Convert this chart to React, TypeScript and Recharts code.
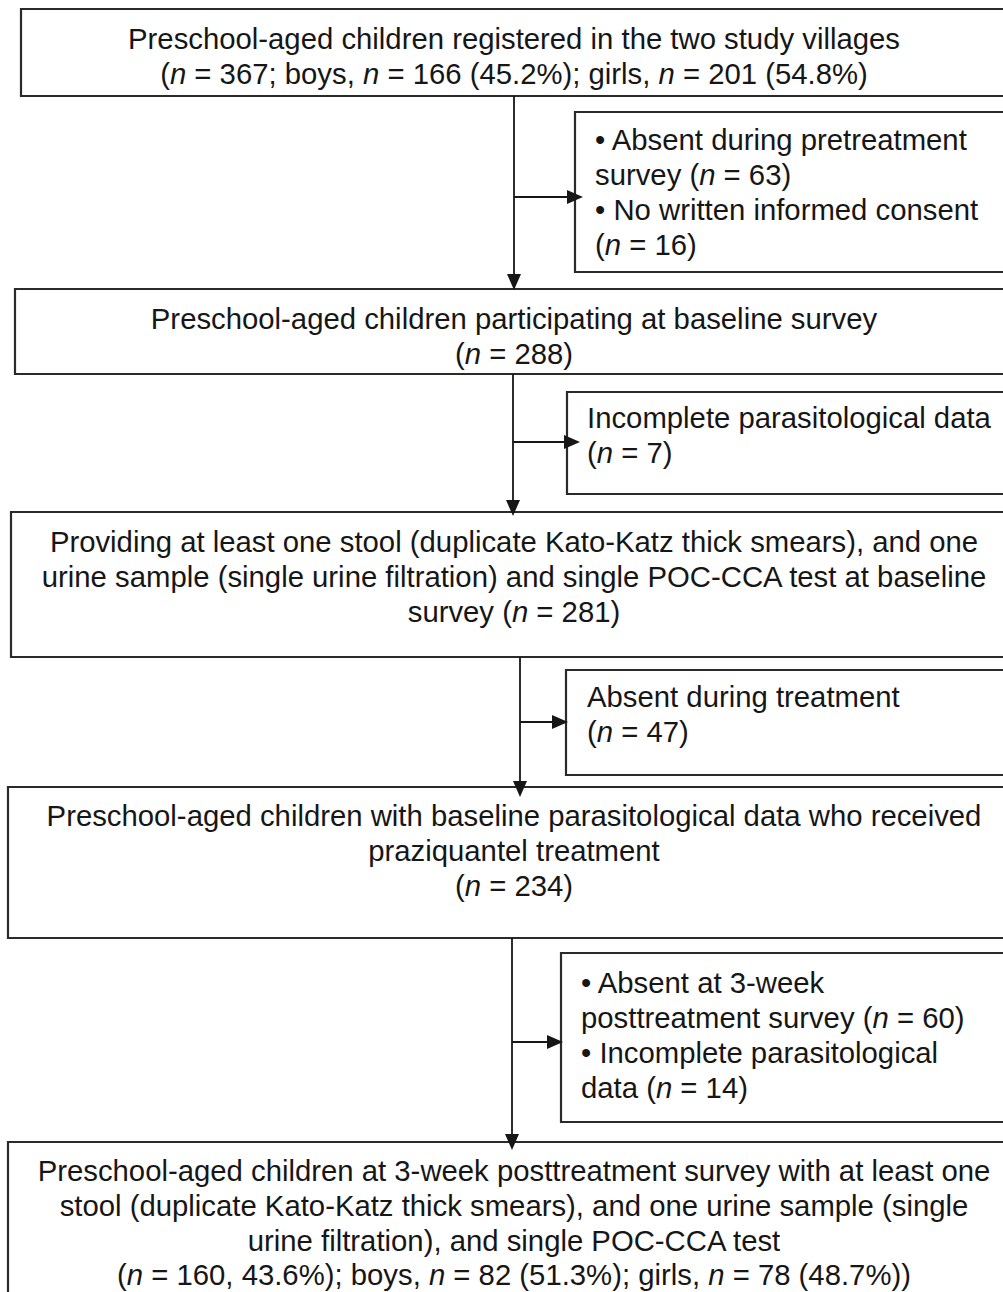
import { ReferenceArea, ReferenceLine, Scatter, ScatterChart, XAxis, YAxis } from "recharts"

// text of the main flow boxes ("*n*" is drawn in italics)
const registeredLines = [
  "Preschool-aged children registered in the two study villages",
  "(*n* = 367; boys, *n* = 166 (45.2%); girls, *n* = 201 (54.8%)",
]
const baselineLines = [
  "Preschool-aged children participating at baseline survey",
  "(*n* = 288)",
]
const providingLines = [
  "Providing at least one stool (duplicate Kato-Katz thick smears), and one",
  "urine sample (single urine filtration) and single POC-CCA test at baseline",
  "survey (*n* = 281)",
]
const treatedLines = [
  "Preschool-aged children with baseline parasitological data who received",
  "praziquantel treatment",
  "(*n* = 234)",
]
const followUpLines = [
  "Preschool-aged children at 3-week posttreatment survey with at least one",
  "stool (duplicate Kato-Katz thick smears), and one urine sample (single",
  "urine filtration), and single POC-CCA test",
  "(*n* = 160, 43.6%); boys, *n* = 82 (51.3%); girls, *n* = 78 (48.7%))",
]

// text of the exclusion boxes
const excludedPretreatLines = [
  "• Absent during pretreatment",
  "survey (*n* = 63)",
  "• No written informed consent",
  "(*n* = 16)",
]
const excludedIncompleteLines = ["Incomplete parasitological data", "(*n* = 7)"]
const excludedTreatmentLines = ["Absent during treatment", "(*n* = 47)"]
const excludedFollowUpLines = [
  "• Absent at 3-week",
  "posttreatment survey (*n* = 60)",
  "• Incomplete parasitological",
  "data (*n* = 14)",
]

const W = 1003
const H = 1292
const LINE_H = 35
const INK = "#161616"

// geometry in picture pixels (domain of the hidden axes)
const mainBoxes = [
  { x1: 21, y1: 9, y2: 96, base: 49, lines: registeredLines },
  { x1: 15, y1: 289, y2: 374, base: 329, lines: baselineLines },
  { x1: 11, y1: 512, y2: 657, base: 552, lines: providingLines },
  { x1: 8, y1: 787, y2: 938, base: 826, lines: treatedLines },
  { x1: 8, y1: 1142, y2: 1310, base: 1181, lines: followUpLines, lh: 34.8 },
]
const sideBoxes = [
  { x1: 575, y1: 112, y2: 272, tx: 595, base: 150, lines: excludedPretreatLines },
  { x1: 567, y1: 392, y2: 494, tx: 587, base: 428, lines: excludedIncompleteLines },
  { x1: 566, y1: 670, y2: 775, tx: 587, base: 707, lines: excludedTreatmentLines },
  { x1: 561, y1: 953, y2: 1122, tx: 581, base: 993, lines: excludedFollowUpLines },
]
const flows = [
  { x: 514, top: 96, tip: 290, hy: 197, htip: 583 },
  { x: 513, top: 374, tip: 516, hy: 442, htip: 580 },
  { x: 520, top: 657, tip: 797, hy: 722, htip: 568 },
  { x: 512, top: 938, tip: 1150, hy: 1042, htip: 563 },
]

const HEAD_LEN = 16
const HEAD_HALF = 7

const textPoints = [
  ...mainBoxes.flatMap((b) =>
    b.lines.map((t, i) => ({ x: 514, y: b.base + i * (b.lh ?? LINE_H), text: t, anchor: "middle" })),
  ),
  ...sideBoxes.flatMap((b) =>
    b.lines.map((t, i) => ({ x: b.tx, y: b.base + i * LINE_H, text: t, anchor: "start" })),
  ),
]

const headPoints = flows.flatMap((f) => [
  { x: f.x, y: f.tip, dir: "down" },
  { x: f.htip, y: f.hy, dir: "right" },
])

function RichText(props: any) {
  const { cx, cy, payload } = props
  const parts = String(payload.text).split(/(\*n\*)/)
  return (
    <text
      x={cx}
      y={cy}
      textAnchor={payload.anchor}
      fontFamily="'Liberation Sans', Arial, sans-serif"
      fontSize={29.3}
      fill={INK}
    >
      {parts.map((p, i) =>
        p === "*n*" ? (
          <tspan key={i} fontStyle="italic">
            n
          </tspan>
        ) : (
          <tspan key={i}>{p}</tspan>
        ),
      )}
    </text>
  )
}

function ArrowHead(props: any) {
  const { cx, cy, payload } = props
  const pts =
    payload.dir === "down"
      ? `${cx},${cy} ${cx - HEAD_HALF},${cy - HEAD_LEN} ${cx + HEAD_HALF},${cy - HEAD_LEN}`
      : `${cx},${cy} ${cx - HEAD_LEN},${cy - HEAD_HALF} ${cx - HEAD_LEN},${cy + HEAD_HALF}`
  return <polygon points={pts} fill={INK} />
}

export default function App() {
  return (
    <div style={{ position: "absolute", left: 0, top: 0, background: "#fff" }}>
      <ScatterChart width={W} height={H} margin={{ top: 0, right: 0, bottom: 0, left: 0 }}>
        <XAxis type="number" dataKey="x" domain={[0, W]} hide />
        <YAxis type="number" dataKey="y" domain={[0, H]} reversed hide />
        {mainBoxes.map((b, i) => (
          <ReferenceArea
            key={`m${i}`}
            x1={b.x1}
            x2={W + 20}
            y1={b.y1}
            y2={b.y2}
            fill="none"
            stroke="#2a2a2a"
            strokeWidth={2.2}
            ifOverflow="visible"
          />
        ))}
        {sideBoxes.map((b, i) => (
          <ReferenceArea
            key={`s${i}`}
            x1={b.x1}
            x2={W + 20}
            y1={b.y1}
            y2={b.y2}
            fill="none"
            stroke="#2a2a2a"
            strokeWidth={2.2}
            ifOverflow="visible"
          />
        ))}
        {flows.map((f, i) => (
          <ReferenceLine
            key={`v${i}`}
            segment={[
              { x: f.x, y: f.top },
              { x: f.x, y: f.tip - HEAD_LEN + 1 },
            ]}
            stroke={INK}
            strokeWidth={1.8}
            ifOverflow="visible"
          />
        ))}
        {flows.map((f, i) => (
          <ReferenceLine
            key={`h${i}`}
            segment={[
              { x: f.x, y: f.hy },
              { x: f.htip - HEAD_LEN + 1, y: f.hy },
            ]}
            stroke={INK}
            strokeWidth={1.8}
            ifOverflow="visible"
          />
        ))}
        <Scatter data={textPoints} shape={RichText} isAnimationActive={false} />
        <Scatter data={headPoints} shape={ArrowHead} isAnimationActive={false} />
      </ScatterChart>
    </div>
  )
}
